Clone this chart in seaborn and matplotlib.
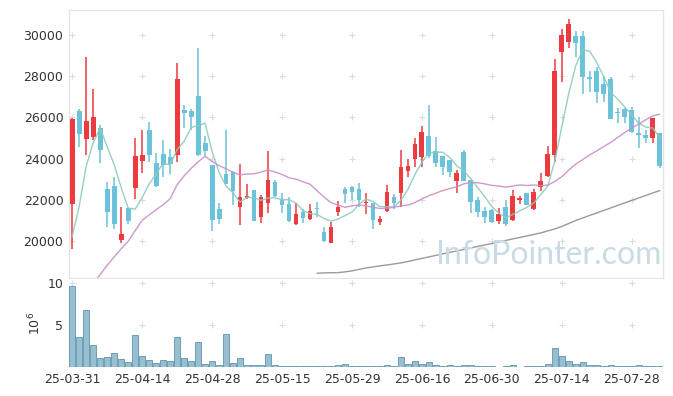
import numpy as np
import pandas as pd
import matplotlib
matplotlib.use("Agg")
import matplotlib.pyplot as plt
import seaborn as sns

# daily OHLC (KRW), one entry per trading day
opens = [21800, 26330, 24950, 25070, 25510, 22540, 22690, 20070, 21610, 22560,
         23910, 25400, 23790, 24240, 24060, 24200, 26360, 26320, 27050, 24750,
         23700, 21560, 23270, 23380, 21680, 22120, 22490, 21200, 21880, 22860,
         22060, 21820, 20860, 21400, 21070, 21570, 20470, 19940, 21430, 22540,
         22650, 22540, 21850, 21850, 20930, 21490, 22170, 22330, 23430, 23980,
         24060, 25110, 24350, 24140, 23950, 22900, 24320, 22980, 22010, 21490,
         21520, 21010, 21650, 21040, 22010, 22330, 21570, 22650, 23170, 24160,
         29140, 29670, 29960, 29960, 27950, 28250, 27620, 27870, 26250, 26400,
         26360, 25240, 25150, 25020, 25240]
highs = [25950, 26400, 28910, 27370, 25640, 22860, 23110, 21680, 21620, 25000,
         25400, 25800, 24300, 24910, 24460, 28620, 26610, 26410, 29350, 25120,
         23720, 21850, 25400, 23400, 23750, 22780, 22500, 22250, 24380, 22950,
         22330, 22170, 21880, 21560, 21820, 21930, 20720, 20930, 21960, 22650,
         22660, 22820, 22360, 21860, 21250, 22730, 22300, 24430, 23980, 25000,
         25560, 26610, 25040, 24150, 23960, 23460, 24430, 22990, 22170, 21650,
         21560, 21600, 22010, 22490, 22200, 22360, 22530, 23330, 24620, 28820,
         30270, 30750, 30160, 30160, 28220, 28460, 27980, 27950, 26450, 26450,
         26480, 26040, 25400, 25970, 25250]
lows = [19620, 24590, 24170, 24900, 23810, 20690, 20590, 19940, 20830, 22040,
        23300, 23860, 22650, 23140, 23270, 23860, 25480, 25400, 24110, 24110,
        20520, 20850, 22760, 21760, 20800, 22040, 21000, 20880, 21370, 22140,
        21370, 20960, 20770, 20910, 21050, 21200, 19990, 19940, 21230, 21850,
        22010, 21680, 21330, 20590, 20800, 21400, 21570, 21680, 23110, 23620,
        23620, 24030, 23620, 23220, 23140, 22330, 22900, 21370, 21200, 20880,
        20880, 20850, 20750, 20990, 21800, 21740, 21520, 22460, 23110, 23830,
        27700, 29380, 28940, 27140, 27250, 26690, 26740, 25900, 25750, 25720,
        25250, 24510, 24780, 24780, 23570]
closes = [25930, 25220, 25830, 26010, 24440, 21440, 20860, 20360, 20990, 24140,
          24190, 24200, 22700, 23700, 23750, 27850, 26190, 26040, 24160, 24350,
          21040, 21090, 22780, 22460, 22140, 22200, 21010, 22140, 22980, 22200,
          21770, 21010, 21330, 21150, 21480, 21550, 20040, 20690, 21650, 22300,
          22400, 21980, 21930, 21040, 21070, 22380, 21880, 23610, 23650, 24700,
          25300, 24140, 23810, 23620, 23380, 23300, 22930, 21930, 21400, 21200,
          20960, 21330, 20850, 22200, 22090, 21770, 22410, 22910, 24240, 28250,
          30000, 30530, 29620, 27930, 27880, 27250, 27120, 25910, 26200, 26010,
          25270, 25170, 25000, 25960, 23670]
# volume in millions of shares
volume = [9.68, 3.57, 6.82, 2.62, 1.07, 1.19, 1.67, 0.95, 0.60, 3.81,
          1.31, 0.87, 0.48, 0.83, 0.71, 3.57, 1.07, 0.71, 2.98, 0.36,
          0.71, 0.24, 3.93, 0.48, 1.07, 0.24, 0.24, 0.24, 1.55, 0.24,
          0.08, 0.08, 0.08, 0.08, 0.08, 0.08, 0.08, 0.08, 0.24, 0.36,
          0.10, 0.10, 0.10, 0.10, 0.10, 0.24, 0.10, 1.19, 0.36, 0.71,
          0.36, 0.60, 0.24, 0.10, 0.24, 0.10, 0.24, 0.24, 0.10, 0.10,
          0.10, 0.03, 0.10, 0.24, 0.03, 0.10, 0.10, 0.10, 0.36, 2.26,
          1.31, 0.71, 0.36, 0.60, 0.24, 0.24, 0.10, 0.24, 0.10, 0.10,
          0.10, 0.24, 0.10, 0.10, 0.10]

# moving-average values before enough in-window days exist
ma5_head = [20230, 21680, 23620, 24770]
ma20_head = [np.nan, np.nan, np.nan, 17960, 18400, 18840, 19250, 19640, 20000, 20510,
             21020, 21280, 21530, 21770, 22060, 22740, 23170, 23530, 23850]
# 60-day MA, visible from day 35 onward
ma60_vals = [18460, 18475, 18485, 18490, 18525, 18575, 18645, 18715, 18765, 18815,
             18860, 18910, 18960, 19030, 19105, 19180, 19250, 19325, 19395, 19470,
             19540, 19610, 19685, 19760, 19830, 19900, 19975, 20050, 20120, 20195,
             20265, 20340, 20410, 20510, 20605, 20725, 20870, 21015, 21135, 21260,
             21380, 21500, 21620, 21745, 21865, 21985, 22105, 22225, 22345, 22460]

tick_labels = ["25-03-31", "25-04-14", "25-04-28", "25-05-15", "25-05-29",
               "25-06-16", "25-06-30", "25-07-14", "25-07-28"]

RED = "#ec3a3e"
BLUE = "#6cc2da"

df = pd.DataFrame({"open": opens, "high": highs, "low": lows,
                   "close": closes, "volume": volume})
df["day"] = np.arange(len(df))
df["ma5"] = df["close"].rolling(5).mean()
df.loc[:3, "ma5"] = ma5_head
df["ma20"] = df["close"].rolling(20).mean()
df.loc[:18, "ma20"] = ma20_head
df["ma60"] = np.nan
df.loc[35:, "ma60"] = ma60_vals

sns.set_theme(style="white")
plt.rcParams["font.family"] = ["DejaVu Sans"]

fig = plt.figure(figsize=(6.73, 3.96), dpi=100)
ax = fig.add_axes([0.1025, 0.298, 0.8826, 0.677])
ax2 = fig.add_axes([0.1025, 0.0732, 0.8826, 0.2223], sharex=ax)

tick_pos = np.arange(0, len(df), 10)

# grid drawn as small crosses
gx, gy = np.meshgrid(tick_pos, np.arange(20000, 30001, 2000))
ax.scatter(gx.ravel(), gy.ravel(), marker="+", s=18, color="#dcdcdc", lw=0.8, zorder=1)
gx2, gy2 = np.meshgrid(tick_pos, [5, 10])
ax2.scatter(gx2.ravel(), gy2.ravel(), marker="+", s=18, color="#dcdcdc", lw=0.8, zorder=1)

# candles
up = df["close"] >= df["open"]
colors = np.where(up, RED, BLUE)
body_lo = np.minimum(df["open"], df["close"])
body_h = np.maximum((df["close"] - df["open"]).abs(), 70)
ax.vlines(df["day"], df["low"], df["high"], colors=colors, lw=1.1, zorder=2)
ax.bar(df["day"], body_h, bottom=body_lo, width=0.7, color=colors, lw=0, zorder=3)

# moving averages
sns.lineplot(data=df, x="day", y="ma5", ax=ax, color="#8ccbbb", lw=1.0, alpha=0.9, zorder=4)
sns.lineplot(data=df, x="day", y="ma20", ax=ax, color="#c98fc7", lw=1.0, alpha=0.9, zorder=4)
sns.lineplot(data=df, x="day", y="ma60", ax=ax, color="#9a9a9a", lw=1.0, zorder=4)

ax.set_xlim(-0.45, len(df) - 0.55)
ax.set_ylim(18230, 31200)
ax.set_yticks(np.arange(20000, 30001, 2000))
ax.set_ylabel("")
ax.set_xlabel("")
ax.tick_params(axis="x", labelbottom=False, length=0)
ax.tick_params(axis="y", length=0, labelsize=9, labelcolor="#333333", pad=4)

ax.text(0.997, 0.03, "InfoPointer.com", transform=ax.transAxes, ha="right", va="bottom",
        fontsize=23, color="#c9dbe5", family="Lato", zorder=5)

# volume
ax2.bar(df["day"], df["volume"], width=0.95, color="#98bfcf", edgecolor="#6e9fb8",
        lw=0.7, zorder=2)
ax2.set_ylim(0, 10.5)
ax2.set_yticks([5, 10])
ax2.set_xticks(tick_pos)
ax2.set_xticklabels(tick_labels)
ax2.set_ylabel("10$^6$", fontsize=9, color="#333333", labelpad=3)
ax2.set_xlabel("")
ax2.tick_params(axis="both", length=0, labelsize=9, labelcolor="#333333", pad=4)

for a in (ax, ax2):
    for s in a.spines.values():
        s.set_color("#e4e4e4")
        s.set_linewidth(0.9)
ax2.spines["bottom"].set_visible(False)
ax2.spines["left"].set_visible(False)
ax2.spines["right"].set_visible(False)
ax2.spines["top"].set_visible(False)

fig.savefig("out.png", dpi=100)
